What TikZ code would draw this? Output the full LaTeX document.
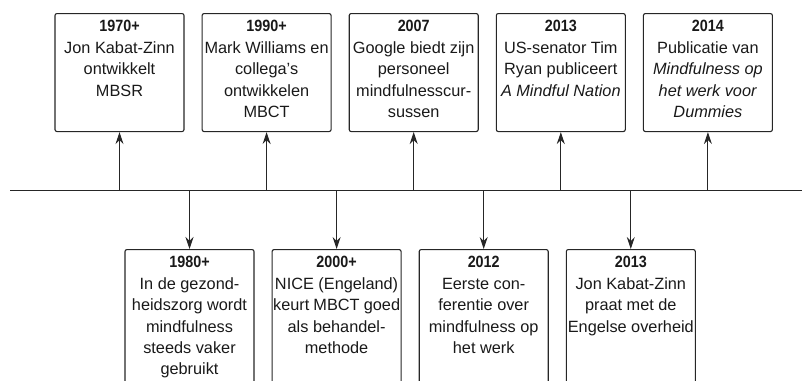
\documentclass[tikz,border=0pt]{standalone}
\usepackage{fontspec}
\setmainfont{Liberation Sans}[BoldFeatures={FakeStretch=0.88}]
\usetikzlibrary{positioning,arrows.meta}

\newcommand{\evtext}[3]{\parbox[c][#1][t]{127pt}{\centering\textbf{#2}\\#3}}

\tikzset{
  evt/.style={draw=black!85, rounded corners=2pt, line width=1.1pt,
    inner xsep=1pt, inner ysep=7pt, text=black!90,
    font=\fontsize{16.3}{21.4}\selectfont},
  link/.style={->, line width=1pt, draw=black!85},
}

\begin{document}
\begin{tikzpicture}[x=1pt,y=-1pt,>={Stealth[length=12pt,width=8pt,inset=4pt]}]
\clip (0,0) rectangle (802,380);

% timeline
\coordinate (lineL) at (10,190.5);
\coordinate (lineR) at (802,190.5);
\draw[line width=1pt, black!85] (lineL) -- (lineR);

% top row
\node[evt, anchor=north] (y1970) at (119.5,13)
  {\evtext{104pt}{1970+}{Jon Kabat-Zinn\\ontwikkelt\\MBSR}};
\node[evt, right=17pt of y1970] (y1990)
  {\evtext{104pt}{1990+}{Mark Williams en\\collega’s\\ontwikkelen\\MBCT}};
\node[evt, right=17pt of y1990] (y2007)
  {\evtext{104pt}{2007}{Google biedt zijn\\personeel\\mindfulnesscur-\\sussen}};
\node[evt, right=17pt of y2007] (y2013a)
  {\evtext{104pt}{2013}{US-senator Tim\\Ryan publiceert\\\textit{A Mindful Nation}}};
\node[evt, right=17pt of y2013a] (y2014)
  {\evtext{104pt}{2014}{Publicatie van\\\textit{Mindfulness op}\\\textit{het werk voor}\\\textit{Dummies}}};

% bottom row
\node[evt, anchor=north] (y1980) at (189.5,249)
  {\evtext{160pt}{1980+}{In de gezond-\\heidszorg wordt\\mindfulness\\steeds vaker\\gebruikt}};
\node[evt, right=17pt of y1980] (y2000)
  {\evtext{160pt}{2000+}{NICE (Engeland)\\keurt MBCT goed\\als behandel-\\methode}};
\node[evt, right=17pt of y2000] (y2012)
  {\evtext{160pt}{2012}{Eerste con-\\ferentie over\\mindfulness op\\het werk}};
\node[evt, right=17pt of y2012] (y2013b)
  {\evtext{160pt}{2013}{Jon Kabat-Zinn\\praat met de\\Engelse overheid}};

% arrows
\foreach \n in {y1970,y1990,y2007,y2013a,y2014}
  \draw[link] (\n |- lineL) -- (\n.south);
\foreach \n in {y1980,y2000,y2012,y2013b}
  \draw[link] (\n |- lineL) -- (\n.north);

\end{tikzpicture}
\end{document}
